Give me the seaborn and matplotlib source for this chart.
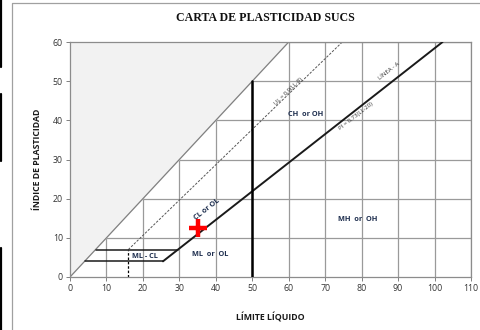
import matplotlib
matplotlib.use("Agg")
import matplotlib.pyplot as plt
import seaborn as sns
import pandas as pd
from matplotlib.lines import Line2D

# ---- data ----
title = "CARTA DE PLASTICIDAD SUCS"
xlabel = "LÍMITE LÍQUIDO"
ylabel = "ÍNDICE DE PLASTICIDAD"
x_ticks = [0, 10, 20, 30, 40, 50, 60, 70, 80, 90, 100, 110]
y_ticks = [0, 10, 20, 30, 40, 50, 60]

upper_limit_ll = [0, 60]          # PI = LL boundary
upper_limit_pi = [0, 60]
u_line_ll = [16, 74.7]            # UL = 0,9(LL-8)
u_line_pi = [7, 60]
u_vert_ll = [16, 16]
u_vert_pi = [0, 7]
a_line_ll = [25.5, 102.2]         # PI = 0,73(LL-20)
a_line_pi = [4, 60]
ml_cl_low_ll = [4, 25.5]
ml_cl_low_pi = [4, 4]
ml_cl_high_ll = [7, 29.6]
ml_cl_high_pi = [7, 7]
ll50_ll = [50, 50]
ll50_pi = [0, 50]
sample_ll = [35]
sample_pi = [12.5]

zone_labels = ["CL or OL", "ML - CL", "ML  or  OL", "MH  or  OH", "CH  or OH"]
zone_x = [37.5, 20.5, 38.5, 79, 64.5]
zone_y = [17.3, 5.3, 5.8, 14.8, 41.5]
zone_rot = [38, 0, 0, 0, 0]

sns.set_theme(style="white")
plt.rcParams["font.family"] = ["Open Sans", "DejaVu Sans"]

fig = plt.figure(figsize=(4.8, 3.3), dpi=100)
ax = fig.add_axes([70/480, 1-277/330, 401/480, 235/330])

ax.set_xlim(0, 110)
ax.set_ylim(0, 60)

# grid
for x in x_ticks[1:]:
    ax.axvline(x, color="#9a9a9a", lw=0.9, zorder=0)
for y in y_ticks[1:]:
    ax.axhline(y, color="#9a9a9a", lw=0.9, zorder=0)

# shaded area above PI = LL
ax.fill_between(upper_limit_ll, upper_limit_pi, [60, 60], color="#f2f2f2", zorder=1, lw=0)

def seg(xs, ys, **kw):
    df = pd.DataFrame({"x": xs, "y": ys})
    sns.lineplot(data=df, x="x", y="y", ax=ax, sort=False, estimator=None, **kw)

seg(upper_limit_ll, upper_limit_pi, color="#808080", lw=0.9, zorder=2)
seg(u_line_ll, u_line_pi, color="#555555", lw=0.7, linestyle=(0, (2.5, 1.5)), zorder=2)
seg(u_vert_ll, u_vert_pi, color="black", lw=0.9, linestyle=(0, (2, 1.5)), zorder=2)
seg(a_line_ll, a_line_pi, color="#1a1a1a", lw=1.4, zorder=3)
seg(ml_cl_low_ll, ml_cl_low_pi, color="#1a1a1a", lw=1.1, zorder=3)
seg(ml_cl_high_ll, ml_cl_high_pi, color="#1a1a1a", lw=1.1, zorder=3)
seg(ll50_ll, ll50_pi, color="black", lw=1.8, zorder=3)

sns.scatterplot(x=sample_ll, y=sample_pi, ax=ax, marker="+", s=170, linewidth=3.2,
                color="#ff0000", zorder=6)

for t, x, y, r in zip(zone_labels, zone_x, zone_y, zone_rot):
    ax.text(x, y, t, fontsize=5.3, fontweight="bold", color="#1f2f4f", ha="center", va="center",
            rotation=r, zorder=7)

ax.text(60.0, 47.5, "UL = 0,9(LL-8)", fontsize=4.3, color="#333333", rotation=44,
        ha="center", va="center", zorder=7)
ax.text(87.5, 52.5, "LÍNEA - A", fontsize=4.3, color="#333333", rotation=38,
        ha="center", va="center", zorder=7)
ax.text(78.5, 41.0, "PI = 0,73(LL-20)", fontsize=4.3, color="#333333", rotation=38,
        ha="center", va="center", zorder=7)

ax.set_xticks(x_ticks)
ax.set_yticks(y_ticks)
ax.set_xticklabels([str(v) for v in x_ticks], fontsize=6.3, color="#333333")
ax.set_yticklabels([str(v) for v in y_ticks], fontsize=6.3, color="#333333")
ax.tick_params(axis="both", length=3, width=0.7, color="#808080", pad=2, direction="out",
               bottom=True, left=True)
for s in ax.spines.values():
    s.set_color("#8c8c8c")
    s.set_linewidth(0.9)
ax.set_xlabel(xlabel, fontsize=6.3, fontweight="bold", color="#1a1a1a", labelpad=14)
ax.set_ylabel(ylabel, fontsize=6.3, fontweight="bold", color="#1a1a1a", labelpad=8)

fig.text(265/480, 1-18/330, title, fontsize=8.6, fontweight="bold", family=["Liberation Serif", "DejaVu Serif"],
         ha="center", va="center", color="#111111")

# outer chart frame and left-edge artifacts
fig.add_artist(Line2D([12/480, 12/480, 1.0], [0, 1-3/330, 1-3/330], transform=fig.transFigure,
                      color="#a0a0a0", lw=0.9))
for y0, y1 in [(0, 67), (94, 161), (248, 330)]:
    fig.add_artist(Line2D([1/480, 1/480], [1-y0/330, 1-y1/330], transform=fig.transFigure,
                          color="black", lw=1.6))

fig.savefig("out.png", dpi=100)
